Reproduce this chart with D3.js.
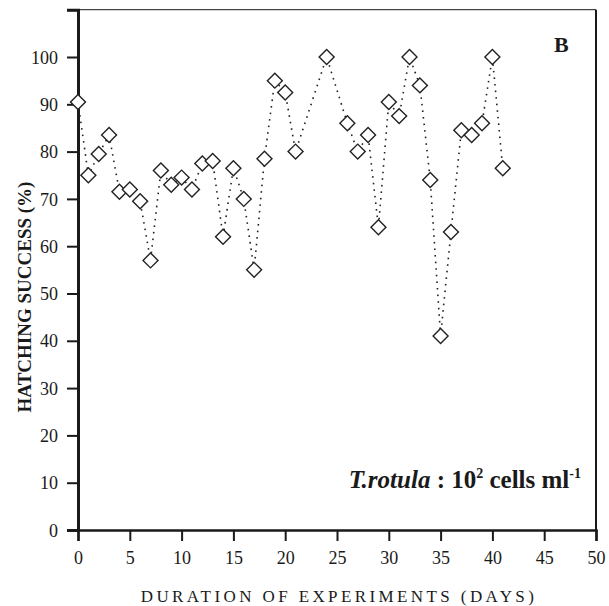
<!DOCTYPE html>
<html><head><meta charset="utf-8">
<script src="https://cdn.jsdelivr.net/npm/d3@7"></script>
<style>
html,body{margin:0;padding:0;background:#fff;}
svg{display:block;font-family:"Liberation Serif","Times New Roman",serif;}
</style></head>
<body>
<svg id="chart" width="609" height="606"></svg>
<script>
const days = [0,1,2,3,4,5,6,7,8,9,10,11,12,13,14,15,16,17,18,19,20,21,24,26,27,28,29,30,31,32,33,34,35,36,37,38,39,40,41];
const hatching = [90.5,75,79.5,83.5,71.5,72,69.5,57,76,73,74.5,72,77.5,78,62,76.5,70,55,78.5,95,92.5,80,100,86,80,83.5,64,90.5,87.5,100,94,74,41,63,84.5,83.5,86,100,76.5];
const xTicks = [0,5,10,15,20,25,30,35,40,45,50];
const yTicks = [0,10,20,30,40,50,60,70,80,90,100,110];
const yLabelTicks = [0,10,20,30,40,50,60,70,80,90,100];
const xTitle = "DURATION OF EXPERIMENTS (DAYS)";
const yTitle = "HATCHING SUCCESS (%)";
const panelLabel = "B";

const svg = d3.select("#chart");
const x = d3.scaleLinear().domain([0,50]).range([78,596]);
const y = d3.scaleLinear().domain([0,110]).range([530,9.7]);
const ink = "#1a1a1a";

// frame: top & right
svg.append("line").attr("x1",x(0)).attr("x2",x(50)).attr("y1",y(110)).attr("y2",y(110))
  .attr("stroke","#444").attr("stroke-width",1.2);
svg.append("line").attr("x1",x(50)).attr("x2",x(50)).attr("y1",y(110)).attr("y2",y(0))
  .attr("stroke",ink).attr("stroke-width",2);

// y axis
const yAxis = svg.append("g").attr("transform",`translate(${x(0)},0)`)
  .call(d3.axisLeft(y).tickValues(yTicks).tickSize(11).tickPadding(9)
    .tickFormat(d => yLabelTicks.includes(d) ? d : ""));
yAxis.select(".domain").attr("stroke",ink).attr("stroke-width",3);
yAxis.selectAll(".tick line").attr("stroke",ink).attr("stroke-width",2);
yAxis.selectAll(".tick text").attr("fill",ink).style("font-size","18px")
  .style("font-family","Liberation Serif").attr("dy","0.34em");

// x axis
const xAxis = svg.append("g").attr("transform",`translate(0,${y(0)})`)
  .call(d3.axisBottom(x).tickValues(xTicks).tickSize(11).tickPadding(10));
xAxis.select(".domain").attr("stroke",ink).attr("stroke-width",2.5);
xAxis.selectAll(".tick line").attr("stroke",ink).attr("stroke-width",2);
xAxis.selectAll(".tick text").attr("fill",ink).style("font-size","18px")
  .style("font-family","Liberation Serif");

// dotted connecting line
const line = d3.line().x((d,i)=>x(days[i])).y(d=>y(d));
svg.append("path").datum(hatching).attr("d",line)
  .attr("fill","none").attr("stroke","#222").attr("stroke-width",1.6)
  .attr("stroke-dasharray","1.6,5").attr("stroke-linecap","butt");

// diamond markers
const sym = d3.symbol().type(d3.symbolSquare).size(112);
svg.append("g").selectAll("path").data(hatching).join("path")
  .attr("d",sym)
  .attr("transform",(d,i)=>`translate(${x(days[i])},${y(d)}) rotate(45)`)
  .attr("fill","#fff").attr("stroke","#222").attr("stroke-width",1.4);

// axis titles
svg.append("text").attr("x",339).attr("y",602).attr("text-anchor","middle")
  .style("font-size","17px").style("letter-spacing","3.4px").attr("fill",ink).text(xTitle);
svg.append("text").attr("transform","translate(31,297) rotate(-90)").attr("text-anchor","middle")
  .style("font-size","19px").style("font-weight","bold").attr("fill",ink).text(yTitle);

// panel label
svg.append("text").attr("x",554).attr("y",52).style("font-size","22px")
  .style("font-weight","bold").attr("fill",ink).text(panelLabel);

// annotation
const ann = svg.append("text").attr("x",581).attr("y",488).attr("text-anchor","end")
  .style("font-size","25px").style("font-weight","bold").attr("fill",ink);
ann.append("tspan").style("font-style","italic").text("T.rotula");
ann.append("tspan").text(" : 10");
ann.append("tspan").attr("dy",-10).style("font-size","14px").text("2");
ann.append("tspan").attr("dy",10).text(" cells ml");
ann.append("tspan").attr("dy",-10).style("font-size","14px").text("-1");
</script>
</body></html>
